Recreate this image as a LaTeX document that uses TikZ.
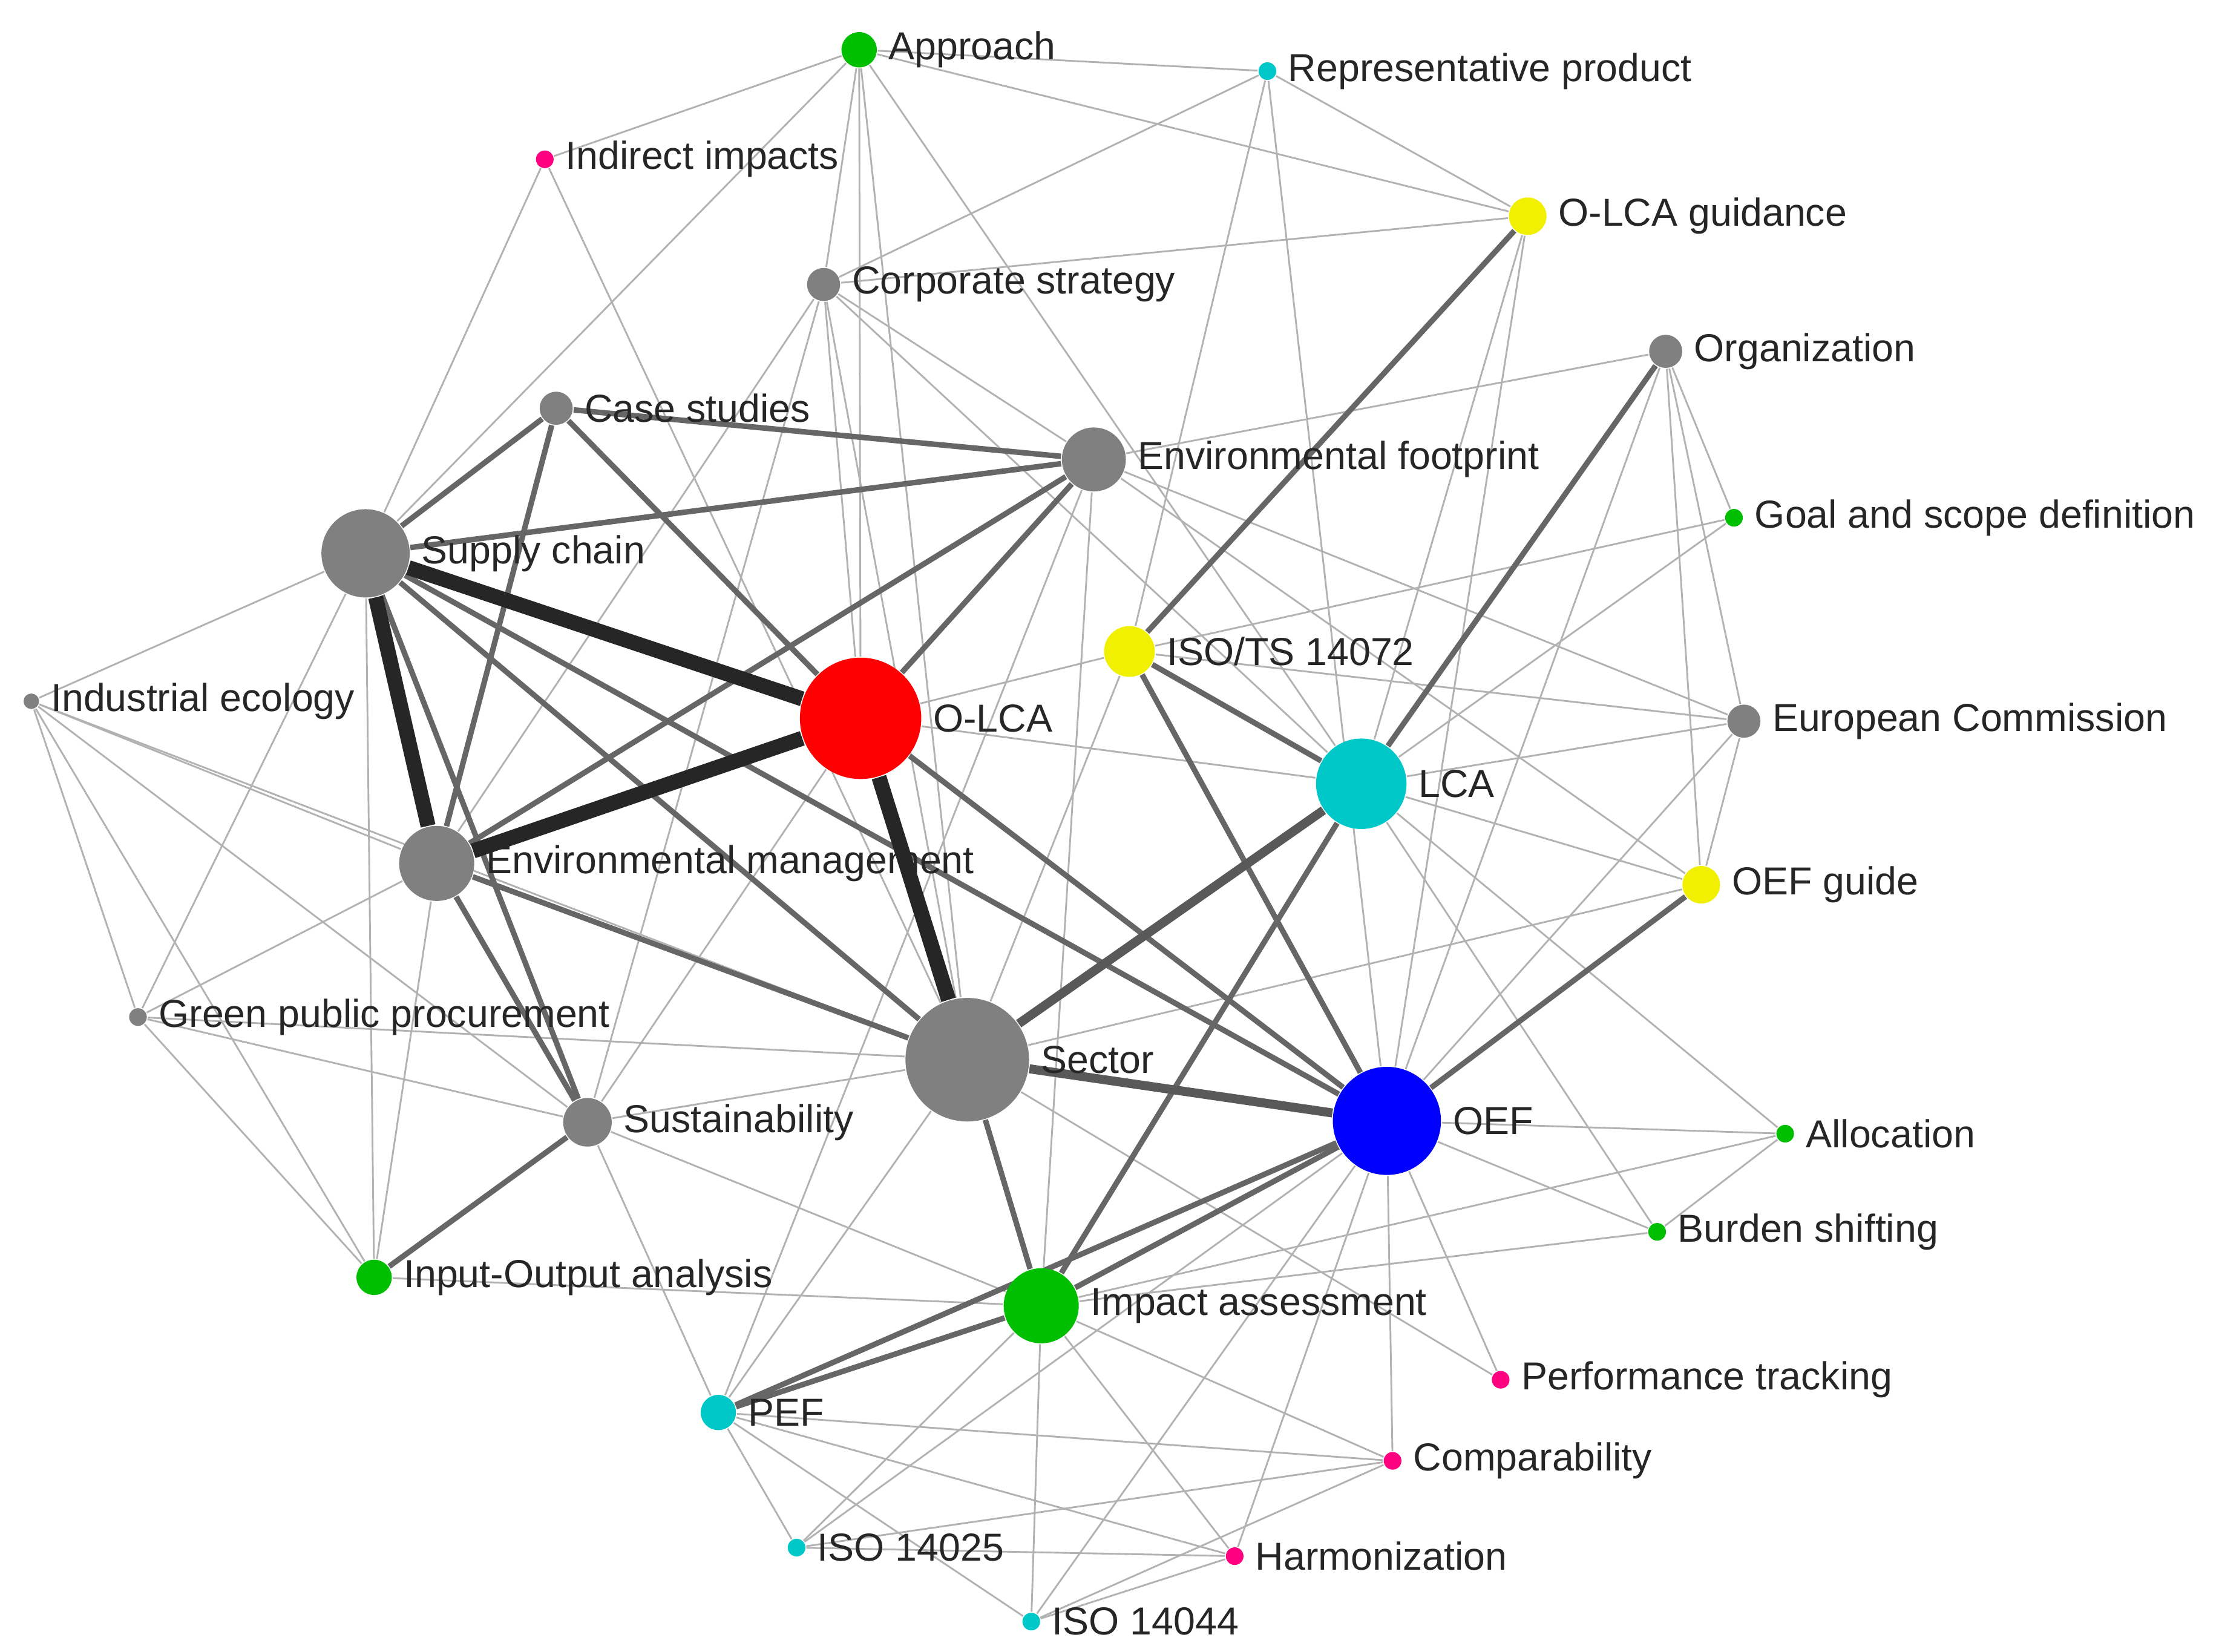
\documentclass[tikz,border=0pt]{standalone}
\usepackage{fontspec}
\setmainfont{Liberation Sans}
\usetikzlibrary{backgrounds}
\definecolor{ngray}{RGB}{128,128,128}
\definecolor{ngreen}{RGB}{0,190,0}
\definecolor{ncyan}{RGB}{0,200,200}
\definecolor{npink}{RGB}{255,0,128}
\definecolor{nyellow}{RGB}{240,240,0}
\tikzset{
 nd/.style={circle,fill=#1,inner sep=0pt,draw=none},
 lbl/.style={font=\fontsize{7.8}{9}\selectfont,inner sep=1pt,text=black!85},
 e0/.style={draw=black!30,line width=0.35pt},
 e1/.style={draw=black!60,line width=1.1pt},
 e2/.style={draw=black!65,line width=1.8pt},
 e3/.style={draw=black!85,line width=3pt}
}
\newcommand{\nn}[6]{\node[nd=#4,minimum size=#5*0.0155cm,label={[lbl,anchor=west,xshift=1pt]east:#6}] (#1) at (#2,#3) {};}
\begin{document}
\begin{tikzpicture}[x=0.01cm,y=-0.01cm]
\useasboundingbox (0,0) rectangle (1560,1161);
\nn{app}{604}{35}{ngreen}{16}{Approach}
\nn{rep}{891}{50}{ncyan}{8}{Representative product}
\nn{ind}{383}{112}{npink}{8}{Indirect impacts}
\nn{olg}{1074}{152}{nyellow}{17}{O-LCA guidance}
\nn{cor}{579}{200}{ngray}{15}{Corporate strategy}
\nn{org}{1171}{247}{ngray}{15}{Organization}
\nn{cas}{391}{287}{ngray}{15}{Case studies}
\nn{env}{769}{323}{ngray}{29}{Environmental footprint}
\nn{gsd}{1219}{364}{ngreen}{8}{Goal and scope definition}
\nn{sup}{257}{389}{ngray}{40}{Supply chain}
\nn{ist}{794}{458}{nyellow}{23}{ISO/TS 14072}
\nn{olca}{605}{505}{red}{55}{O-LCA}
\nn{iec}{22}{493}{ngray}{7}{Industrial ecology}
\nn{euc}{1226}{507}{ngray}{15}{European Commission}
\nn{lca}{957}{551}{ncyan}{41}{LCA}
\nn{emg}{307}{607}{ngray}{34}{Environmental management}
\nn{oeg}{1196}{622}{nyellow}{17}{OEF guide}
\nn{gpp}{97}{715}{ngray}{8}{Green public procurement}
\nn{sec}{680}{745}{ngray}{56}{Sector}
\nn{sus}{413}{789}{ngray}{22}{Sustainability}
\nn{oef}{975}{788}{blue}{49}{OEF}
\nn{all}{1255}{797}{ngreen}{8}{Allocation}
\nn{bur}{1165}{866}{ngreen}{8}{Burden shifting}
\nn{io}{263}{898}{ngreen}{16}{Input-Output analysis}
\nn{ima}{732}{918}{ngreen}{34}{Impact assessment}
\nn{per}{1055}{970}{npink}{8}{Performance tracking}
\nn{pef}{505}{993}{ncyan}{16}{PEF}
\nn{com}{979}{1027}{npink}{8}{Comparability}
\nn{i25}{560}{1088}{ncyan}{8}{ISO 14025}
\nn{har}{868}{1094}{npink}{8}{Harmonization}
\nn{i44}{725}{1140}{ncyan}{8}{ISO 14044}
\begin{scope}[on background layer]
\fill[white] (0,0) rectangle (1560,1161);
\foreach \a/\b in {app/ind,app/sup,app/cor,app/olca,app/sec,app/olg,app/rep,app/lca,
 ind/sup,ind/sec,rep/cor,rep/olg,rep/ist,rep/oef,olg/cor,olg/lca,olg/oef,
 cor/olca,cor/emg,cor/sus,cor/sec,cor/lca,cor/env,org/env,org/gsd,org/euc,org/oef,org/oeg,
 gsd/ist,gsd/lca,euc/lca,euc/env,euc/oef,euc/oeg,iec/sup,iec/gpp,iec/sec,iec/sus,iec/io,iec/emg,
 gpp/sup,gpp/sus,gpp/io,gpp/emg,gpp/sec,oeg/lca,oeg/sec,oeg/env,all/lca,all/oef,all/ima,
 bur/lca,bur/ima,bur/all,bur/oef,per/oef,per/sec,com/oef,com/pef,com/ima,com/i25,com/i44,
 har/pef,har/oef,har/ima,har/i44,har/i25,i25/ima,i25/pef,i25/oef,i44/ima,i44/pef,i44/oef,
 pef/sus,pef/sec,pef/env,io/sup,io/ima,io/emg,sus/ima,sus/sec,sus/olca,ist/sec,ist/olca,ist/euc,
 olca/lca,ima/env}
 \draw[e0] (\a) -- (\b);
\foreach \a/\b in {sup/env,cas/env,cas/sup,cas/emg,cas/olca,env/olca,env/emg,sup/sec,sup/oef,
 sup/sus,emg/sus,emg/sec,olca/oef,ist/lca,ist/oef,org/lca,lca/ima,sec/ima,oef/ima,ima/pef,oef/pef,oef/oeg,olg/ist,sus/io}
 \draw[e1] (\a) -- (\b);
\foreach \a/\b in {lca/sec,oef/sec}
 \draw[e2] (\a) -- (\b);
\foreach \a/\b in {sup/olca,sup/emg,emg/olca,olca/sec}
 \draw[e3] (\a) -- (\b);
\end{scope}
\end{tikzpicture}
\end{document}
